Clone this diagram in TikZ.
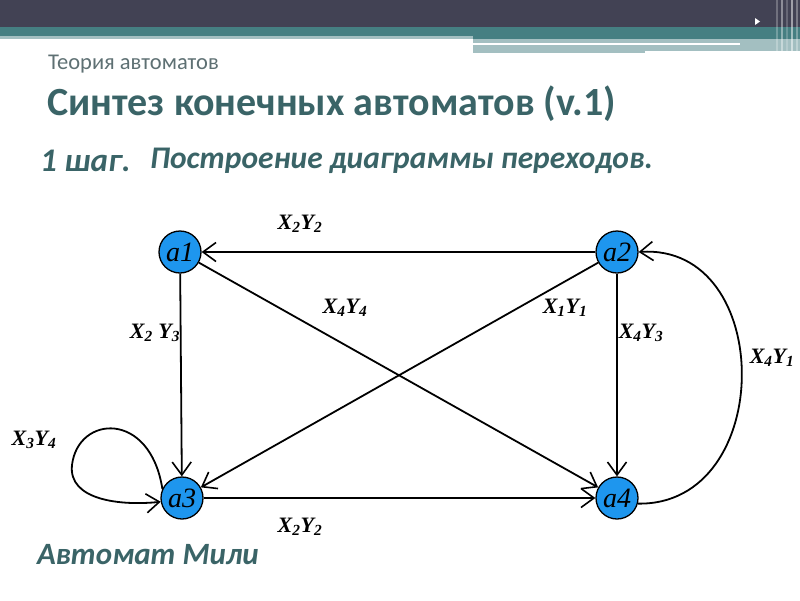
\documentclass[tikz,border=0pt]{standalone}
\usepackage{fontspec}
\setmainfont{Carlito}
\newfontfamily\tserif{Liberation Serif}
\usetikzlibrary{arrows.meta, positioning}
\definecolor{slidedark}{HTML}{424254}
\definecolor{slideteal}{HTML}{457F82}
\definecolor{slidelight}{HTML}{A3BFC1}
\definecolor{titleteal}{HTML}{3A6467}
\definecolor{subgrey}{HTML}{5E7073}
\definecolor{stateblue}{HTML}{1E96EE}
\newcommand{\sig}[2]{X\textsubscript{#1}Y\textsubscript{#2}}

\begin{document}
\begin{tikzpicture}[x=1pt, y=-1pt,
    state/.style={circle, draw, line width=1.3pt, fill=stateblue,
                  minimum size=42pt, inner sep=0pt,
                  font=\tserif\itshape\fontsize{28}{28}\selectfont},
    trans/.style={line width=1.8pt,
                  -{Straight Barb[length=13pt, width=19pt, line width=1.6pt]}},
    sig/.style={font=\tserif\bfseries\itshape\fontsize{22}{22}\selectfont},
    heading/.style={anchor=west, text=titleteal, inner sep=0pt},
]
    \useasboundingbox (0,0) rectangle (800,600);
    \fill[white] (0,0) rectangle (800,600);

    % slide header bars
    \fill[slidedark] (0,0) rectangle (800,27);
    \fill[slideteal] (0,27) rectangle (800,36);
    \fill[slideteal] (473,36) rectangle (800,39);
    \fill[slidelight] (0,36) rectangle (473,39);
    \fill[slidelight] (473,39) rectangle (800,51);
    \fill[slidelight] (473,51) rectangle (645,53);
    \fill[white] (473,43) rectangle (740,45);
    \foreach \sx/\op in {776/0.25, 781/0.4, 786/0.2, 791/0.5, 796/0.3}
        \fill[white, opacity=\op] (\sx,0) rectangle ++(2,53);
    \fill[white] (755,18) -- (760,21.5) -- (755,25) -- cycle;

    % headings
    \node[heading, text=subgrey, font=\fontsize{22.5}{22.5}\selectfont] (topic) at (48,64) {Теория автоматов};
    \node[heading, font=\bfseries\fontsize{40}{40}\selectfont] (title) at (47,104) {Синтез конечных автоматов (v.1)};
    \node[heading, font=\bfseries\itshape\fontsize{33}{33}\selectfont] (step) at (40,161) {1 шаг.};
    \node[heading, font=\bfseries\itshape\fontsize{31.5}{31.5}\selectfont] (steptext) at (150,161) {Построение диаграммы переходов.};
    \node[heading, font=\bfseries\itshape\fontsize{31}{31}\selectfont] (kind) at (37,555) {Автомат Мили};

    % states
    \node[state] (a1) at (180,252) {a1};
    \node[state] (a2) at (617,252) {a2};
    \node[state] (a3) at (182,498) {a3};
    \node[state] (a4) at (617,498) {a4};

    % transitions
    \draw[trans] (a2) -- (a1);
    \draw[trans] (a1) -- (a3);
    \draw[trans] (a1) -- (a4);
    \draw[trans] (a2) -- (a3);
    \draw[trans] (a2) -- (a4);
    \draw[trans] (a3) -- (a4);
    \draw[trans] (a4.-15) .. controls (776,506) and (776,243) .. (a2.east);
    \draw[trans] (a3.155) .. controls (150,410) and (78,415) .. (72,465)
        .. controls (68,500) and (120,506) .. (a3.190);

    % labels
    \node[sig] (l21) at (300,224) {\sig{2}{2}};
    \node[sig] (l13) at (155,333) {X\textsubscript{2} Y\textsubscript{3}};
    \node[sig] (l14) at (345,308) {\sig{4}{4}};
    \node[sig] (l23) at (565,308) {\sig{1}{1}};
    \node[sig] (l24) at (641,333) {\sig{4}{3}};
    \node[sig] (l34) at (300,527) {\sig{2}{2}};
    \node[sig] (l42) at (772,358) {\sig{4}{1}};
    \node[sig] (l33) at (34,440) {\sig{3}{4}};
\end{tikzpicture}
\end{document}
